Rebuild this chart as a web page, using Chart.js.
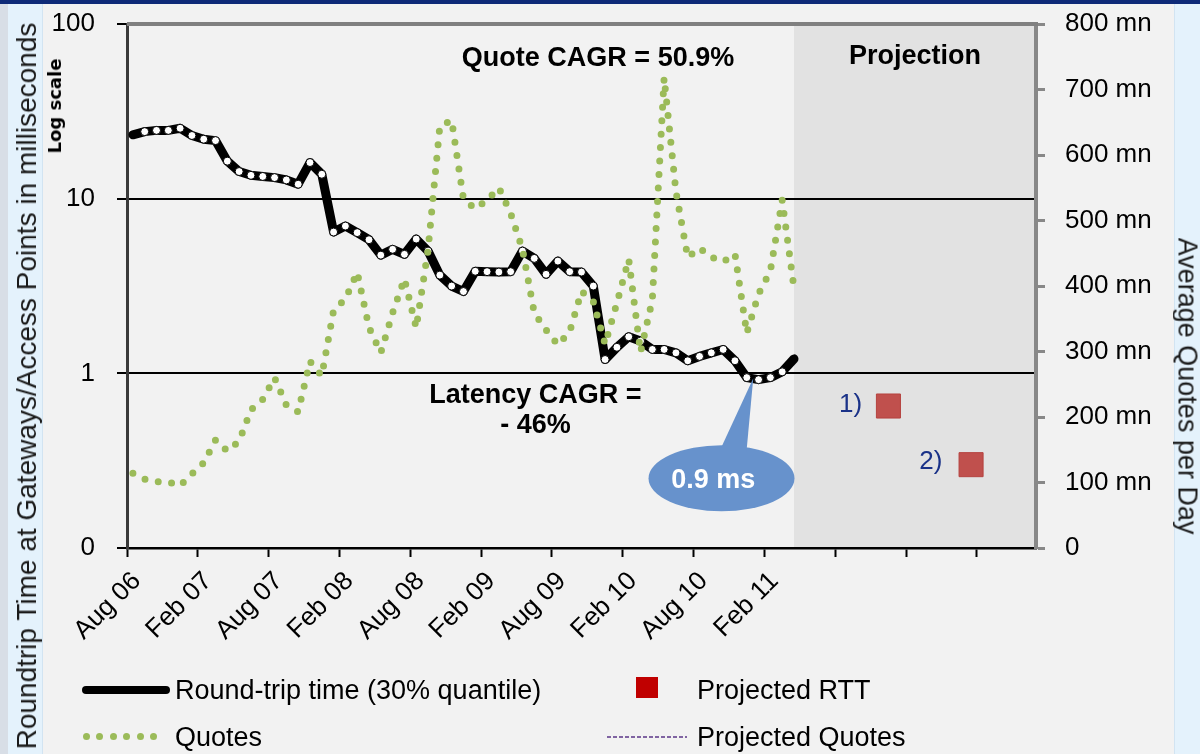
<!DOCTYPE html>
<html>
<head>
<meta charset="utf-8">
<script src="https://cdn.jsdelivr.net/npm/chart.js@4.4.0/dist/chart.umd.min.js"></script>
<style>
  body { margin: 0; background: #f2f2f2; font-family: "Liberation Sans", Arial, sans-serif; }
  #wrap { position: relative; width: 1200px; height: 754px; overflow: hidden; background: #f2f2f2; }
  #chart { position: absolute; left: 0; top: 0; }
  .abs { position: absolute; }
  .rot { position: absolute; white-space: nowrap; line-height: 1; transform: translate(-50%, -50%) rotate(-90deg); }
  .lgtext { position: absolute; font-size: 27px; line-height: 27px; color: #000; white-space: nowrap; }
  .dot { position: absolute; width: 7px; height: 7px; border-radius: 50%; background: #9bbb59; }
</style>
</head>
<body>
<div id="wrap">
  <div class="abs" style="left:0;top:0;width:1200px;height:4px;background:#0e2a78"></div>
  <div class="abs" style="left:0;top:4px;width:8px;height:750px;background:#d8dee6"></div>
  <div class="abs" style="left:8px;top:4px;width:34px;height:750px;background:#e4f2fc;border-right:1px solid #d2e4f2"></div>
  <div class="abs" style="left:1174px;top:4px;width:26px;height:750px;background:#e4f2fc;border-left:1px solid #d2e4f2"></div>

  <canvas id="chart" width="1200" height="754"></canvas>

  <div class="rot" style="left:27px;top:386px;font-size:28px;color:#1a1a1a">Roundtrip Time at Gateways/Access Points in milliseconds</div>
  <div class="rot" style="left:55px;top:106px;font-size:18px;font-weight:bold;font-family:'DejaVu Sans',sans-serif">Log scale</div>
  <div class="rot" style="left:1187px;top:386px;font-size:27px;color:#1a1a1a;transform:translate(-50%,-50%) rotate(90deg)">Average Quotes per Day</div>

  <!-- legend -->
  <div class="abs" style="left:82px;top:686px;width:88px;height:8px;background:#000;border-radius:4px"></div>
  <div class="lgtext" style="left:175px;top:677px">Round-trip time (30% quantile)</div>
  <div class="dot" style="left:83px;top:733px"></div>
  <div class="dot" style="left:96px;top:733px"></div>
  <div class="dot" style="left:110px;top:733px"></div>
  <div class="dot" style="left:123px;top:733px"></div>
  <div class="dot" style="left:137px;top:733px"></div>
  <div class="dot" style="left:150px;top:733px"></div>
  <div class="lgtext" style="left:175px;top:724px">Quotes</div>
  <div class="abs" style="left:636px;top:677px;width:22px;height:21px;background:#c00000"></div>
  <div class="lgtext" style="left:697px;top:677px">Projected RTT</div>
  <div class="abs" style="left:607px;top:736px;width:80px;height:2px;background:repeating-linear-gradient(90deg,#8064a2 0 4px,transparent 4px 6px)"></div>
  <div class="lgtext" style="left:697px;top:724px">Projected Quotes</div>
</div>

<script>
// x positions are months since Aug 2006; each monthly value sits in the middle of its month
const xTickLabels = ['Aug 06', 'Feb 07', 'Aug 07', 'Feb 08', 'Aug 08', 'Feb 09', 'Aug 09', 'Feb 10', 'Aug 10', 'Feb 11', '', '', ''];
const leftTicks = [0.1, 1, 10, 100];

// round-trip time, ms (30% quantile), one per month Aug 06 .. Apr 11
const latencyMs = [
  23.2, 24.2, 24.6, 24.6, 25.3, 23.0, 21.9, 21.5, 16.4, 14.3,
  13.6, 13.4, 13.2, 12.8, 12.1, 16.1, 13.8, 6.44, 6.97, 6.39,
  5.82, 4.75, 5.13, 4.80, 5.87, 5.01, 3.65, 3.16, 2.94, 3.84,
  3.82, 3.80, 3.82, 5.01, 4.55, 3.69, 4.39, 3.82, 3.80, 3.16,
  1.20, 1.41, 1.62, 1.53, 1.37, 1.37, 1.31, 1.18, 1.25, 1.31,
  1.37, 1.18, 0.945, 0.92, 0.945, 1.02, 1.21
];

// average quotes per day, millions
const quotesMn = [
  114, 105, 101, 101, 95, 113, 130, 165, 148, 163,
  211, 227, 260, 218, 208, 285, 263, 363, 380, 421,
  337, 298, 359, 411, 336, 455, 644, 653, 533, 518,
  531, 550, 511, 456, 359, 333, 310, 330, 392, 376,
  311, 374, 441, 299, 379, 718, 544, 444, 458, 444,
  437, 449, 328, 388, 423, 531, 397
];

const projectedMonth = [64.5, 71.5];
const projectedRttMs = [0.65, 0.30];
const projectionStart = 56.5;
const monthsShown = 77;

const FONT = '"Liberation Sans", Arial, sans-serif';
Chart.defaults.font.family = FONT;
Chart.defaults.color = '#000';

const monthly = (vals) => vals.map((v, i) => ({ x: i + 0.5, y: v }));

// text placed in data space: x = month, y = right-axis value (mn)
const notes = [
  { text: 'Quote CAGR = 50.9%', m: 39.9, v: 736, font: 'bold 27px ' + FONT, color: '#000' },
  { text: 'Projection', m: 66.75, v: 739, font: 'bold 27px ' + FONT, color: '#000' },
  { text: 'Latency CAGR =', m: 34.6, v: 222, font: 'bold 27px ' + FONT, color: '#000' },
  { text: '- 46%', m: 34.6, v: 175, font: 'bold 27px ' + FONT, color: '#000' },
  { text: '1)', m: 61.3, v: 208, font: '26px ' + FONT, color: '#1a3288' },
  { text: '2)', m: 68.1, v: 121, font: '26px ' + FONT, color: '#1a3288' }
];
const callout = { text: '0.9 ms', tipM: 53.05, tipV: 259, m: 50.36, v: 106.4, textM: 49.66, textV: 91 };

const decor = {
  id: 'decor',
  beforeDraw(chart) {
    const { ctx, chartArea: a, scales } = chart;
    const sx = scales.x.getPixelForValue(projectionStart);
    ctx.save();
    ctx.fillStyle = '#e2e2e2';
    ctx.fillRect(sx, a.top, a.right - sx, a.bottom - a.top);
    ctx.restore();
  },
  afterDraw(chart) {
    const { ctx, chartArea: a, scales } = chart;
    const x = scales.x, y1 = scales.y1;
    ctx.save();
    // top frame
    ctx.strokeStyle = '#808080';
    ctx.lineWidth = 4;
    ctx.beginPath();
    ctx.moveTo(a.left, a.top);
    ctx.lineTo(a.right + 2, a.top);
    ctx.stroke();

    ctx.textAlign = 'center';
    ctx.textBaseline = 'alphabetic';
    notes.forEach(n => {
      ctx.font = n.font;
      ctx.fillStyle = n.color;
      ctx.fillText(n.text, x.getPixelForValue(n.m), y1.getPixelForValue(n.v));
    });

    // callout bubble
    const cx = x.getPixelForValue(callout.m), cy = y1.getPixelForValue(callout.v);
    ctx.fillStyle = '#6792cc';
    ctx.beginPath();
    ctx.ellipse(cx, cy, 73, 33, 0, 0, Math.PI * 2);
    ctx.fill();
    ctx.beginPath();
    ctx.moveTo(cx - 2, cy - 27);
    ctx.lineTo(x.getPixelForValue(callout.tipM), y1.getPixelForValue(callout.tipV));
    ctx.lineTo(cx + 25, cy - 27);
    ctx.closePath();
    ctx.fill();
    ctx.font = 'bold 27px ' + FONT;
    ctx.fillStyle = '#fff';
    ctx.fillText(callout.text, x.getPixelForValue(callout.textM), y1.getPixelForValue(callout.textV));
    ctx.restore();
  }
};

// fixed axis sizes so the plot area sits where it does in the original
const fixWidth = (w) => (s) => { s.width = w; s.paddingTop = 0; s.paddingBottom = 0; };

new Chart(document.getElementById('chart'), {
  type: 'line',
  data: {
    datasets: [
      {
        label: 'Quotes',
        data: monthly(quotesMn),
        yAxisID: 'y1',
        borderColor: '#9bbb59',
        borderWidth: 7,
        borderDash: [0, 13.5],
        borderCapStyle: 'round',
        pointRadius: 0,
        tension: 0
      },
      {
        label: 'Round-trip time (30% quantile)',
        data: monthly(latencyMs),
        yAxisID: 'y',
        borderColor: '#000',
        borderWidth: 9,
        borderJoinStyle: 'round',
        borderCapStyle: 'round',
        pointRadius: (c) => (c.dataIndex === 0 || c.dataIndex === latencyMs.length - 1) ? 0 : 4,
        pointBackgroundColor: '#fff',
        pointBorderColor: '#000',
        pointBorderWidth: 1,
        tension: 0
      },
      {
        label: 'Projected RTT',
        data: projectedMonth.map((m, i) => ({ x: m, y: projectedRttMs[i] })),
        yAxisID: 'y',
        showLine: false,
        pointStyle: 'rect',
        pointRadius: 17,
        pointBackgroundColor: '#c0504d',
        pointBorderColor: '#b5423f',
        pointBorderWidth: 1
      },
      {
        label: 'Projected Quotes',
        data: [],
        yAxisID: 'y1',
        borderColor: '#8064a2',
        borderWidth: 2,
        borderDash: [4, 2],
        pointRadius: 0
      }
    ]
  },
  options: {
    responsive: false,
    animation: false,
    layout: { padding: { top: 24, left: 0, right: 0, bottom: 0 } },
    plugins: { legend: { display: false }, tooltip: { enabled: false } },
    scales: {
      x: {
        type: 'linear',
        min: 0,
        max: monthsShown,
        afterFit: (s) => { s.height = 206; s.paddingLeft = 0; s.paddingRight = 0; },
        border: { display: true, color: '#000', width: 2.5 },
        grid: { drawOnChartArea: false, tickLength: 9, tickColor: '#000', tickWidth: 2 },
        ticks: {
          stepSize: 6,
          includeBounds: false,
          autoSkip: false,
          minRotation: 45,
          maxRotation: 45,
          padding: 9,
          labelOffset: 10,
          font: { size: 26 },
          callback: (v) => xTickLabels[v / 6] ?? ''
        }
      },
      y: {
        type: 'logarithmic',
        position: 'left',
        min: 0.1,
        max: 100,
        afterFit: fixWidth(127),
        afterBuildTicks: (s) => { s.ticks = leftTicks.map(v => ({ value: v })); },
        border: { display: true, color: '#3a3a3a', width: 3 },
        grid: {
          color: (c) => (c.tick && (c.tick.value === 1 || c.tick.value === 10)) ? '#000' : 'rgba(0,0,0,0)',
          lineWidth: 2,
          tickLength: 10,
          tickColor: '#000',
          tickWidth: 2
        },
        ticks: {
          padding: 22,
          font: { size: 26 },
          callback: (v) => v === 0.1 ? '0' : String(v)
        }
      },
      y1: {
        type: 'linear',
        position: 'right',
        min: 0,
        max: 800,
        afterFit: fixWidth(164),
        border: { display: true, color: '#888', width: 4 },
        grid: { drawOnChartArea: false, tickLength: 9, tickColor: '#888', tickWidth: 3 },
        ticks: {
          stepSize: 100,
          padding: 20,
          font: { size: 26 },
          callback: (v) => v === 0 ? '0' : v + ' mn'
        }
      }
    }
  },
  plugins: [decor]
});
</script>
</body>
</html>
